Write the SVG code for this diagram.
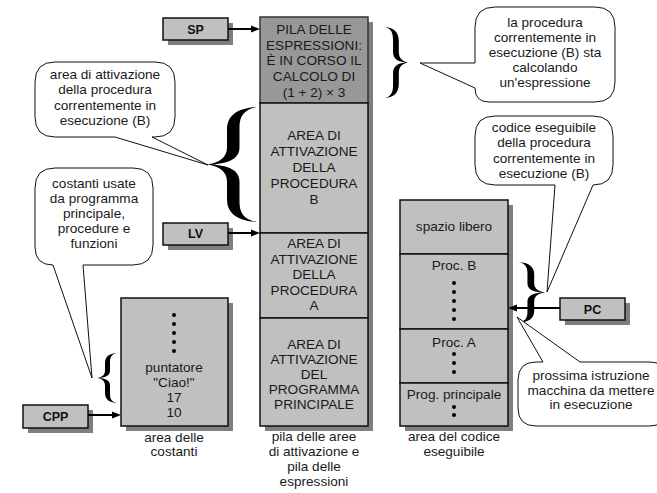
<svg xmlns="http://www.w3.org/2000/svg" width="657" height="493" viewBox="0 0 657 493">
  <style>
    text { font-family: "Liberation Sans", Arial, sans-serif; font-size: 13.6px; fill: #1a1a1a; text-anchor: middle; }
    .cell { fill: #c0c0c0; stroke: #111; stroke-width: 1.5; }
    .cell.dark { fill: #989898; stroke: #333; }
    .shadow { fill: #7f7f7f; }
    .ptr text { font-weight: bold; font-size: 12.5px; fill: #111; }
    .callout { fill: #fff; stroke: #111; stroke-width: 1; stroke-linejoin: miter; }
    .wire { stroke: #000; stroke-width: 2; fill: none; }
    .head { fill: #000; }
    .dot { fill: #000; }
    .brace { fill: #000; }
  </style>
  <defs>
    <!-- curly brace, tip at (0,100), arm ends at x=100, height 200 -->
    <path id="brace" d="M100,0 C60,2 40,15 40,40 L40,70 C40,88 25,97 0,100 C25,103 40,112 40,130 L40,160 C40,185 60,198 100,200 C75,196 65,185 65,165 L65,130 C65,112 48,102 10,100 C48,98 65,88 65,70 L65,35 C65,15 75,4 100,0 Z"/>
  </defs>

  <!-- stack of activation records and expression stack -->
  <g id="stack">
    <rect class="shadow" x="265" y="22" width="108" height="409"/>
    <rect class="cell dark" x="260" y="17" width="108" height="86"/>
    <text x="314" y="34">PILA DELLE</text>
    <text x="314" y="49.7">ESPRESSIONI:</text>
    <text x="314" y="65.4">È IN CORSO IL</text>
    <text x="314" y="81.1">CALCOLO DI</text>
    <text x="314" y="96.8">(1 + 2) × 3</text>
    <rect class="cell" x="260" y="103" width="108" height="130"/>
    <text x="314" y="140">AREA DI</text>
    <text x="314" y="156">ATTIVAZIONE</text>
    <text x="314" y="172">DELLA</text>
    <text x="314" y="188">PROCEDURA</text>
    <text x="314" y="204">B</text>
    <rect class="cell" x="260" y="233" width="108" height="85"/>
    <text x="314" y="248">AREA DI</text>
    <text x="314" y="263.5">ATTIVAZIONE</text>
    <text x="314" y="279">DELLA</text>
    <text x="314" y="294.5">PROCEDURA</text>
    <text x="314" y="310">A</text>
    <rect class="cell" x="260" y="318" width="108" height="108"/>
    <text x="314" y="349">AREA DI</text>
    <text x="314" y="364">ATTIVAZIONE</text>
    <text x="314" y="379">DEL</text>
    <text x="314" y="394">PROGRAMMA</text>
    <text x="314" y="409">PRINCIPALE</text>
    <text x="314" y="441">pila delle aree</text>
    <text x="314" y="456">di attivazione e</text>
    <text x="314" y="471">pila delle</text>
    <text x="314" y="486">espressioni</text>
  </g>

  <!-- executable code area -->
  <g id="code">
    <rect class="shadow" x="405" y="205" width="108" height="226"/>
    <rect class="cell" x="400" y="200" width="108" height="54"/>
    <text x="454" y="231">spazio libero</text>
    <rect class="cell" x="400" y="254" width="108" height="75"/>
    <text x="454" y="269.5">Proc. B</text>
    <circle class="dot" cx="454" cy="283" r="2"/>
    <circle class="dot" cx="454" cy="292" r="2"/>
    <circle class="dot" cx="454" cy="301" r="2"/>
    <circle class="dot" cx="454" cy="310" r="2"/>
    <circle class="dot" cx="454" cy="319" r="2"/>
    <rect class="cell" x="400" y="329" width="108" height="54"/>
    <text x="454" y="346.5">Proc. A</text>
    <circle class="dot" cx="454" cy="354" r="2"/>
    <circle class="dot" cx="454" cy="363" r="2"/>
    <circle class="dot" cx="454" cy="372" r="2"/>
    <rect class="cell" x="400" y="383" width="108" height="43"/>
    <text x="454" y="398.5">Prog. principale</text>
    <circle class="dot" cx="454" cy="407" r="2"/>
    <circle class="dot" cx="454" cy="415" r="2"/>
    <text x="454" y="441">area del codice</text>
    <text x="454" y="456">eseguibile</text>
  </g>

  <!-- constants area -->
  <g id="constants">
    <rect class="shadow" x="126" y="303" width="107" height="128"/>
    <rect class="cell" x="121" y="298" width="107" height="128"/>
    <circle class="dot" cx="174" cy="315" r="2"/>
    <circle class="dot" cx="174" cy="324" r="2"/>
    <circle class="dot" cx="174" cy="333" r="2"/>
    <circle class="dot" cx="174" cy="342" r="2"/>
    <circle class="dot" cx="174" cy="351" r="2"/>
    <text x="174" y="371.5">puntatore</text>
    <text x="174" y="387">"Ciao!"</text>
    <text x="174" y="402">17</text>
    <text x="174" y="417">10</text>
    <text x="174" y="442">area delle</text>
    <text x="174" y="456">costanti</text>
  </g>

  <!-- registers -->
  <g id="sp" class="ptr">
    <rect class="shadow" x="168" y="23" width="65" height="22"/>
    <rect class="cell" x="163" y="18" width="65" height="22"/>
    <text x="195.5" y="33.5">SP</text>
  </g>
  <g id="lv" class="ptr">
    <rect class="shadow" x="168" y="228" width="65" height="22"/>
    <rect class="cell" x="163" y="223" width="65" height="22"/>
    <text x="195.5" y="238">LV</text>
  </g>
  <g id="cpp" class="ptr">
    <rect class="shadow" x="28" y="410" width="65" height="23"/>
    <rect class="cell" x="23" y="405" width="65" height="23"/>
    <text x="55.5" y="420.5">CPP</text>
  </g>
  <g id="pc" class="ptr">
    <rect class="shadow" x="565" y="303" width="65" height="22"/>
    <rect class="cell" x="560" y="298" width="65" height="22"/>
    <text x="592.5" y="313.5">PC</text>
  </g>

  <!-- braces -->
  <g id="braces">
    <use href="#brace" class="brace" transform="translate(408,27) scale(-0.23,0.355)"/>
    <use href="#brace" class="brace" transform="translate(207,107) scale(0.5,0.575)"/>
    <use href="#brace" class="brace" transform="translate(97,353) scale(0.2,0.25)"/>
    <use href="#brace" class="brace" transform="translate(545,262) scale(-0.27,0.305)"/>
  </g>

  <!-- callouts -->
  <g id="callout-expr">
    <path class="callout" d="M495,7 H595 Q615,7 615,27 V82 Q615,102 595,102 H489 Q475,102 475,88 L420,63 L475,63 V27 Q475,7 495,7 Z"/>
    <text x="545" y="26.5">la procedura</text>
    <text x="545" y="42">correntemente in</text>
    <text x="545" y="57">esecuzione (B) sta</text>
    <text x="545" y="72">calcolando</text>
    <text x="545" y="87">un'espressione</text>
  </g>
  <g id="callout-area">
    <path class="callout" d="M55,62 H155 Q175,62 175,82 V117 Q175,137 155,137 H152 L208,165 L115,137 H55 Q35,137 35,117 V82 Q35,62 55,62 Z"/>
    <text x="105" y="79">area di attivazione</text>
    <text x="105" y="94">della procedura</text>
    <text x="105" y="109.5">correntemente in</text>
    <text x="105" y="125">esecuzione (B)</text>
  </g>
  <g id="callout-const">
    <path class="callout" d="M55,168 H133 Q153,168 153,188 V245 Q153,265 133,265 H83 L92,378 L53,265 Q35,265 35,247 V188 Q35,168 55,168 Z"/>
    <text x="94" y="188">costanti usate</text>
    <text x="94" y="203">da programma</text>
    <text x="94" y="218">principale,</text>
    <text x="94" y="233">procedure e</text>
    <text x="94" y="248">funzioni</text>
  </g>
  <g id="callout-code">
    <path class="callout" d="M495,116 H593 Q613,116 613,136 V165 Q613,185 593,185 L547,292 L555,185 H495 Q475,185 475,165 V136 Q475,116 495,116 Z"/>
    <text x="544" y="132">codice eseguibile</text>
    <text x="544" y="147">della procedura</text>
    <text x="544" y="162.5">correntemente in</text>
    <text x="544" y="177.5">esecuzione (B)</text>
  </g>
  <g id="callout-next">
    <path class="callout" d="M536,362 H543 L517,317 L580,362 H650 Q668,362 668,380 V408 Q668,426 650,426 H536 Q518,426 518,408 V380 Q518,362 536,362 Z"/>
    <text x="591" y="380">prossima istruzione</text>
    <text x="591" y="394.5">macchina da mettere</text>
    <text x="591" y="409">in esecuzione</text>
  </g>

  <!-- register pointers -->
  <g id="connectors">
    <line class="wire" x1="228" y1="29" x2="252" y2="29"/>
    <polygon class="head" points="260,29 251,25.5 251,32.5"/>
    <line class="wire" x1="228" y1="233" x2="252" y2="233"/>
    <polygon class="head" points="260,233 251,229.5 251,236.5"/>
    <line class="wire" x1="88" y1="415" x2="113" y2="415"/>
    <polygon class="head" points="121,415 112,411.5 112,418.5"/>
    <line class="wire" x1="560" y1="308" x2="516" y2="308"/>
    <polygon class="head" points="508,308 517,304.5 517,311.5"/>
  </g>
</svg>
